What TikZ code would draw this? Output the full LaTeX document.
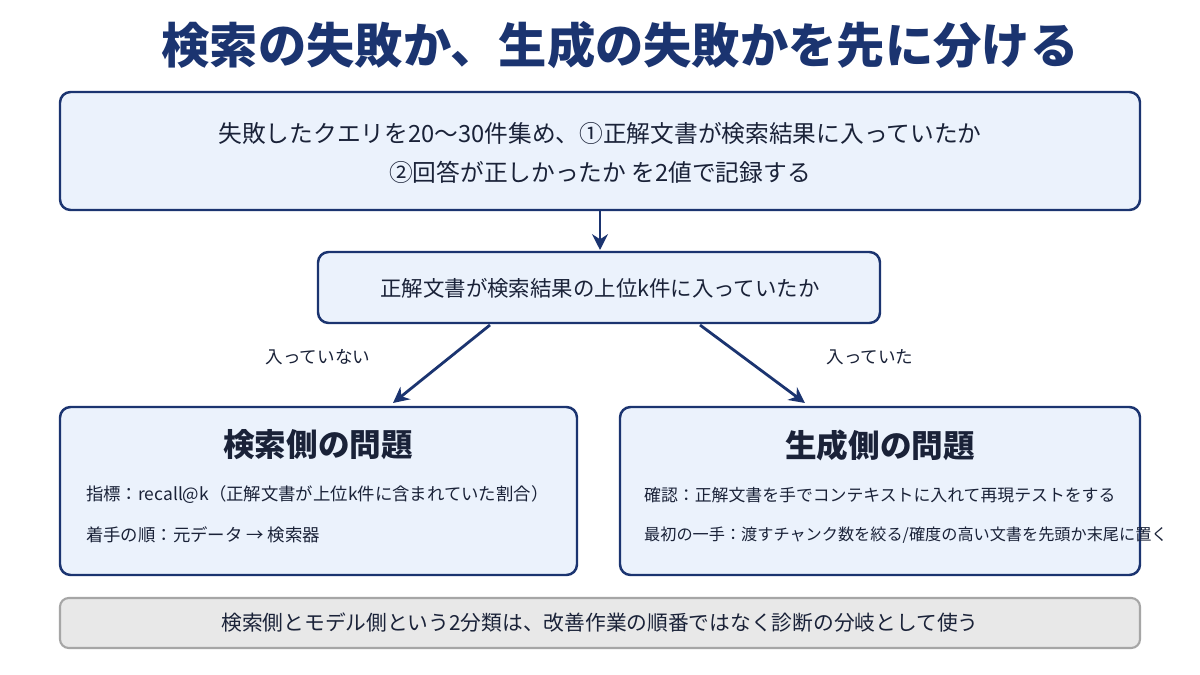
\documentclass[tikz,border=0pt]{standalone}
\usepackage{fontspec}
\setmainfont{Noto Sans CJK JP}
\usetikzlibrary{positioning,arrows.meta}
\definecolor{navy}{HTML}{1B3470}
\definecolor{boxfill}{HTML}{EBF2FC}
\definecolor{ink}{HTML}{1A2238}
\definecolor{grayfill}{HTML}{E8E8E8}
\definecolor{grayline}{HTML}{A6A6A6}
\begin{document}
\begin{tikzpicture}[x=0.02cm,y=-0.02cm]
    \tikzset{
        box/.style={draw=navy, line width=1.4pt, fill=boxfill, rounded corners=6pt},
        note/.style={draw=grayline, line width=1.2pt, fill=grayfill, rounded corners=5pt},
        link/.style={-{Stealth[length=9pt,width=9pt]}, navy, line width=1.6pt}
    }
    \useasboundingbox (0,0) rectangle (1200,675);
    \fill[white] (0,0) rectangle (1200,675);
    \node[navy, font=\fontsize{27.5}{32}\selectfont\bfseries] (title) at (620,45) {検索の失敗か、生成の失敗かを先に分ける};
    % top box
    \draw[box] (60,92) rectangle (1140,210);
    \node[ink, align=center, font=\fontsize{13.5}{22}\selectfont] (collect) at (600,153)
        {失敗したクエリを20〜30件集め、①正解文書が検索結果に入っていたか\\②回答が正しかったか を2値で記録する};
    \coordinate (topb) at (600,210);
    % question
    \draw[box] (318,252) rectangle (880,323);
    \node[ink, font=\fontsize{12.2}{15}\selectfont] (question) at (600,288) {正解文書が検索結果の上位k件に入っていたか};
    \coordinate (qtop) at (600,250);
    \coordinate (qleft) at (490,325);
    \coordinate (qright) at (700,325);
    % results
    \draw[box] (60,407) rectangle (577,575);
    \draw[box] (620,407) rectangle (1140,575);
    \coordinate (ltop) at (393,403);
    \coordinate (rtop) at (805,403);
    \node[ink, font=\fontsize{18}{21}\selectfont\bfseries] (retr) at (318,445) {検索側の問題};
    \node[ink, font=\fontsize{18}{21}\selectfont\bfseries] (gen) at (880,445) {生成側の問題};
    \node[ink, anchor=west, font=\fontsize{9.9}{12}\selectfont] (retr1) at (80,495) {指標：recall@k（正解文書が上位k件に含まれていた割合）};
    \node[ink, anchor=west, font=\fontsize{9.9}{12}\selectfont] (retr2) at (80,535) {着手の順：元データ → 検索器};
    \node[ink, anchor=west, font=\fontsize{9.6}{12}\selectfont] (gen1) at (638,495) {確認：正解文書を手でコンテキストに入れて再現テストをする};
    \node[ink, anchor=west, font=\fontsize{9.2}{12}\selectfont] (gen2) at (638,535) {最初の一手：渡すチャンク数を絞る/確度の高い文書を先頭か末尾に置く};
    % arrows
    \draw[link] (topb) -- (qtop);
    \draw[link] (qleft) -- (ltop);
    \draw[link] (qright) -- (rtop);
    \node[ink, font=\fontsize{10}{12}\selectfont] (no) at (318,357) {入っていない};
    \node[ink, font=\fontsize{10}{12}\selectfont] (yes) at (870,357) {入っていた};
    % footer
    \draw[note] (60,598) rectangle (1140,648);
    \node[ink, font=\fontsize{11.8}{14}\selectfont] (footer) at (600,623) {検索側とモデル側という2分類は、改善作業の順番ではなく診断の分岐として使う};
\end{tikzpicture}
\end{document}
